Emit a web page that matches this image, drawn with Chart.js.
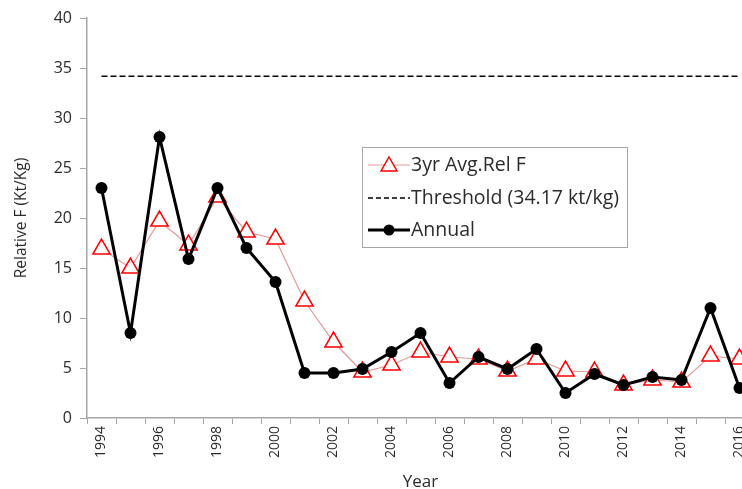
<!DOCTYPE html>
<html>
<head>
<meta charset="utf-8">
<script src="https://cdn.jsdelivr.net/npm/chart.js@4.4.1/dist/chart.umd.min.js"></script>
<style>
    body { margin: 0; overflow: hidden; background: #fff; }
    #wrap { width: 770px; height: 489px; }
</style>
</head>
<body>
<div id="wrap"><canvas id="rel_f_chart" width="770" height="489"></canvas></div>
<script>
const years = [
    "1994", "1995", "1996", "1997", "1998", "1999", "2000", "2001",
    "2002", "2003", "2004", "2005", "2006", "2007", "2008", "2009",
    "2010", "2011", "2012", "2013", "2014", "2015", "2016",
];
const annual = [
    23.0, 8.5, 28.1, 15.9, 23.0, 17.0, 13.6, 4.5, 4.5, 4.9, 6.6, 8.5,
    3.5, 6.1, 4.9, 6.9, 2.5, 4.4, 3.3, 4.1, 3.8, 11.0, 3.0,
];
const avg3yr = [
    16.9, 15.0, 19.7, 17.3, 22.1, 18.6, 17.9, 11.7, 7.6, 4.6, 5.3, 6.6,
    6.1, 5.9, 4.7, 5.9, 4.7, 4.6, 3.3, 3.8, 3.6, 6.2, 5.9,
];
const threshold = 34.17;
const yTicks = [0, 5, 10, 15, 20, 25, 30, 35, 40];

const fontFamily = "'Open Sans', sans-serif";
const textColor = "#2b2b2b";

// legend box drawn by hand so it can sit inside the plot
const legendBox = {
    id: "legendBox",
    afterDraw(chart) {
        const ctx = chart.ctx;
        ctx.save();
        ctx.strokeStyle = "#a6a6a6";
        ctx.lineWidth = 1;
        ctx.strokeRect(362.5, 147.5, 265, 100);
        ctx.font = "19.5px " + fontFamily;
        ctx.fillStyle = textColor;
        ctx.textBaseline = "middle";

        // 3yr avg
        ctx.strokeStyle = "#e39a9a";
        ctx.lineWidth = 1.2;
        ctx.beginPath();
        ctx.moveTo(368, 165);
        ctx.lineTo(410, 165);
        ctx.stroke();
        ctx.strokeStyle = "#ff0000";
        ctx.fillStyle = "#fff";
        ctx.lineWidth = 1.5;
        ctx.beginPath();
        ctx.moveTo(389, 157);
        ctx.lineTo(397, 171);
        ctx.lineTo(381, 171);
        ctx.closePath();
        ctx.fill();
        ctx.stroke();
        ctx.fillStyle = textColor;
        ctx.fillText("3yr Avg.Rel F", 411, 165);

        // threshold
        ctx.strokeStyle = "#000";
        ctx.lineWidth = 1.5;
        ctx.setLineDash([5, 3]);
        ctx.beginPath();
        ctx.moveTo(368, 198);
        ctx.lineTo(410, 198);
        ctx.stroke();
        ctx.setLineDash([]);
        ctx.fillText("Threshold (34.17 kt/kg)", 411, 198);

        // annual
        ctx.lineWidth = 3;
        ctx.beginPath();
        ctx.moveTo(368, 230);
        ctx.lineTo(410, 230);
        ctx.stroke();
        ctx.fillStyle = "#000";
        ctx.beginPath();
        ctx.arc(389, 230, 5.5, 0, Math.PI * 2);
        ctx.fill();
        ctx.fillStyle = textColor;
        ctx.fillText("Annual", 411, 230);
        ctx.restore();
    },
};

const rel_f_chart = document.getElementById("rel_f_chart");
new Chart(rel_f_chart, {
    type: "line",
    data: {
        labels: years,
        datasets: [
            {
                label: "Annual",
                data: annual,
                borderColor: "#000",
                backgroundColor: "#000",
                borderWidth: 3,
                pointRadius: 6,
                pointBorderWidth: 0,
                tension: 0,
            },
            {
                label: "3yr Avg.Rel F",
                data: avg3yr,
                borderColor: "#e39a9a",
                borderWidth: 1.2,
                pointStyle: "triangle",
                pointRadius: 10,
                pointBorderColor: "#ff0000",
                pointBackgroundColor: "#fff",
                pointBorderWidth: 1.5,
                tension: 0,
            },
            {
                label: "Threshold (34.17 kt/kg)",
                data: years.map(() => threshold),
                borderColor: "#000",
                borderWidth: 1.5,
                borderDash: [6, 3],
                pointRadius: 0,
            },
        ],
    },
    plugins: [legendBox],
    options: {
        responsive: false,
        animation: false,
        layout: {
            padding: { top: 18, right: 16, left: 0, bottom: 0 },
        },
        plugins: {
            legend: { display: false },
            tooltip: { enabled: false },
        },
        scales: {
            x: {
                offset: true,
                afterFit: (s) => { s.height = 71; },
                grid: {
                    offset: true,
                    drawOnChartArea: false,
                    drawTicks: true,
                    tickLength: 6,
                    color: "#a6a6a6",
                },
                border: { color: "#a6a6a6", width: 1.5 },
                ticks: {
                    autoSkip: false,
                    minRotation: 90,
                    maxRotation: 90,
                    font: { family: fontFamily, size: 14 },
                    color: textColor,
                    padding: 2,
                    callback: function (v, i) {
                        return i % 2 === 0 ? years[i] : "";
                    },
                },
                title: {
                    display: true,
                    text: "Year",
                    font: { family: fontFamily, size: 17 },
                    color: textColor,
                    padding: { top: 0, bottom: -3 },
                },
            },
            y: {
                min: 0,
                max: 40,
                afterFit: (s) => { s.width = 87; },
                afterBuildTicks: (s) => {
                    s.ticks = yTicks.map((v) => ({ value: v }));
                },
                grid: {
                    drawOnChartArea: false,
                    drawTicks: true,
                    tickLength: 7,
                    color: "#a6a6a6",
                },
                border: { color: "#a6a6a6", width: 1.5 },
                ticks: {
                    font: { family: fontFamily, size: 16 },
                    color: textColor,
                    padding: 8,
                },
                title: {
                    display: true,
                    text: "Relative F (Kt/Kg)",
                    font: { family: fontFamily, size: 15.5 },
                    color: textColor,
                    padding: { top: 12, bottom: 0 },
                },
            },
        },
    },
});
</script>
</body>
</html>
